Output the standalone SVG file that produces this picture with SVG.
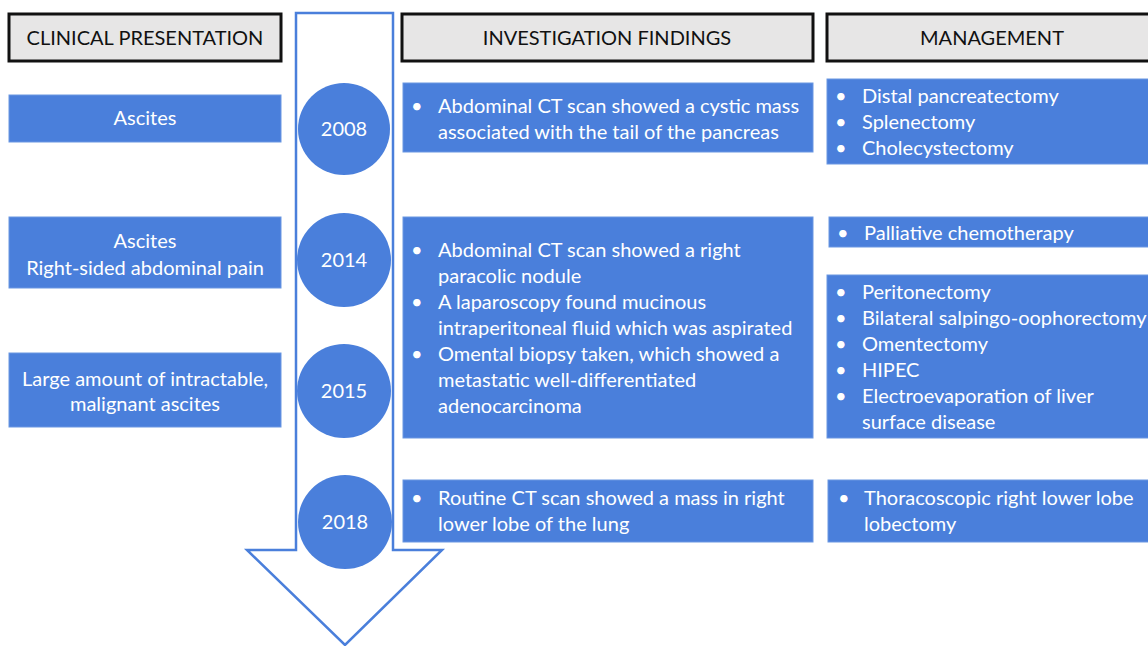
<svg xmlns="http://www.w3.org/2000/svg" width="1148" height="646" viewBox="0 0 1148 646">
<style>
.hdr{fill:#e7e6e6;stroke:#111;stroke-width:3}
.ht{font-family:Lato,"Open Sans",sans-serif;font-size:20px;fill:#111;text-anchor:middle}
.box{fill:#4a7fdb;stroke:#6a97e2;stroke-width:1}
.t{font-family:Lato,"Open Sans",sans-serif;font-size:20px;fill:#fff}
.c{text-anchor:middle}
.yr{font-family:Lato,"Open Sans",sans-serif;font-size:20px;fill:#fff;text-anchor:middle}
.circ{fill:#4a7fdb}
</style>
<rect width="1148" height="646" fill="#fff"/>
<g id="connectors">
<path d="M296,13 H393 V550 H442 L345,645 L247,550 H296 Z" fill="#fff" stroke="#4a7fdb" stroke-width="2.5" stroke-linejoin="miter"/>
</g>
<g id="hdr-clinical"><rect class="hdr" x="9" y="14" width="272" height="47"/><text class="ht" x="145" y="45">CLINICAL PRESENTATION</text></g>
<g id="hdr-investigation"><rect class="hdr" x="402" y="14" width="411" height="47"/><text class="ht" x="607" y="45">INVESTIGATION FINDINGS</text></g>
<g id="hdr-management"><rect class="hdr" x="827" y="14" width="330" height="47"/><text class="ht" x="992" y="45">MANAGEMENT</text></g>

<g id="cp-2008"><rect class="box" x="9" y="95" width="272" height="47"/><text class="t c" x="145" y="125">Ascites</text></g>
<g id="cp-2014"><rect class="box" x="9" y="217" width="272" height="71"/><text class="t c" x="145" y="248">Ascites</text><text class="t c" x="145" y="275">Right-sided abdominal pain</text></g>
<g id="cp-2015"><rect class="box" x="9" y="353" width="272" height="74"/><text class="t c" x="145" y="386">Large amount of intractable,</text><text class="t c" x="145" y="411">malignant ascites</text></g>

<g id="y2008"><circle class="circ" cx="344" cy="129" r="46"/><text class="yr" x="344" y="136">2008</text></g>
<g id="y2014"><circle class="circ" cx="344" cy="260" r="47"/><text class="yr" x="344" y="267">2014</text></g>
<g id="y2015"><circle class="circ" cx="344" cy="391" r="47"/><text class="yr" x="344" y="398">2015</text></g>
<g id="y2018"><circle class="circ" cx="345" cy="522" r="47"/><text class="yr" x="345" y="529">2018</text></g>

<g id="if-2008"><rect class="box" x="403" y="83" width="410" height="69"/>
<text class="t" x="411" y="113">•</text><text class="t" x="438" y="113">Abdominal CT scan showed a cystic mass</text>
<text class="t" x="438" y="139">associated with the tail of the pancreas</text></g>
<g id="if-2014"><rect class="box" x="403" y="217" width="410" height="221"/>
<text class="t" x="411" y="257">•</text><text class="t" x="438" y="257">Abdominal CT scan showed a right</text>
<text class="t" x="438" y="283">paracolic nodule</text>
<text class="t" x="411" y="309">•</text><text class="t" x="438" y="309">A laparoscopy found mucinous</text>
<text class="t" x="438" y="335">intraperitoneal fluid which was aspirated</text>
<text class="t" x="411" y="361">•</text><text class="t" x="438" y="361">Omental biopsy taken, which showed a</text>
<text class="t" x="438" y="387">metastatic well-differentiated</text>
<text class="t" x="438" y="413">adenocarcinoma</text></g>
<g id="if-2018"><rect class="box" x="403" y="480" width="410" height="62"/>
<text class="t" x="411" y="505">•</text><text class="t" x="438" y="505">Routine CT scan showed a mass in right</text>
<text class="t" x="438" y="531">lower lobe of the lung</text></g>

<g id="mg-2008"><rect class="box" x="827" y="79" width="330" height="85"/>
<text class="t" x="835" y="103">•</text><text class="t" x="862" y="103">Distal pancreatectomy</text>
<text class="t" x="835" y="129">•</text><text class="t" x="862" y="129">Splenectomy</text>
<text class="t" x="835" y="155">•</text><text class="t" x="862" y="155">Cholecystectomy</text></g>
<g id="mg-2014"><rect class="box" x="829" y="217" width="330" height="30"/>
<text class="t" x="837" y="240">•</text><text class="t" x="864" y="240">Palliative chemotherapy</text></g>
<g id="mg-2015"><rect class="box" x="827" y="275" width="330" height="163"/>
<text class="t" x="835" y="299">•</text><text class="t" x="862" y="299">Peritonectomy</text>
<text class="t" x="835" y="325">•</text><text class="t" x="862" y="325">Bilateral salpingo-oophorectomy</text>
<text class="t" x="835" y="351">•</text><text class="t" x="862" y="351">Omentectomy</text>
<text class="t" x="835" y="377">•</text><text class="t" x="862" y="377">HIPEC</text>
<text class="t" x="835" y="403">•</text><text class="t" x="862" y="403">Electroevaporation of liver</text>
<text class="t" x="862" y="429">surface disease</text></g>
<g id="mg-2018"><rect class="box" x="828" y="480" width="330" height="62"/>
<text class="t" x="838" y="505">•</text><text class="t" x="864" y="505">Thoracoscopic right lower lobe</text>
<text class="t" x="864" y="531">lobectomy</text></g>
</svg>
